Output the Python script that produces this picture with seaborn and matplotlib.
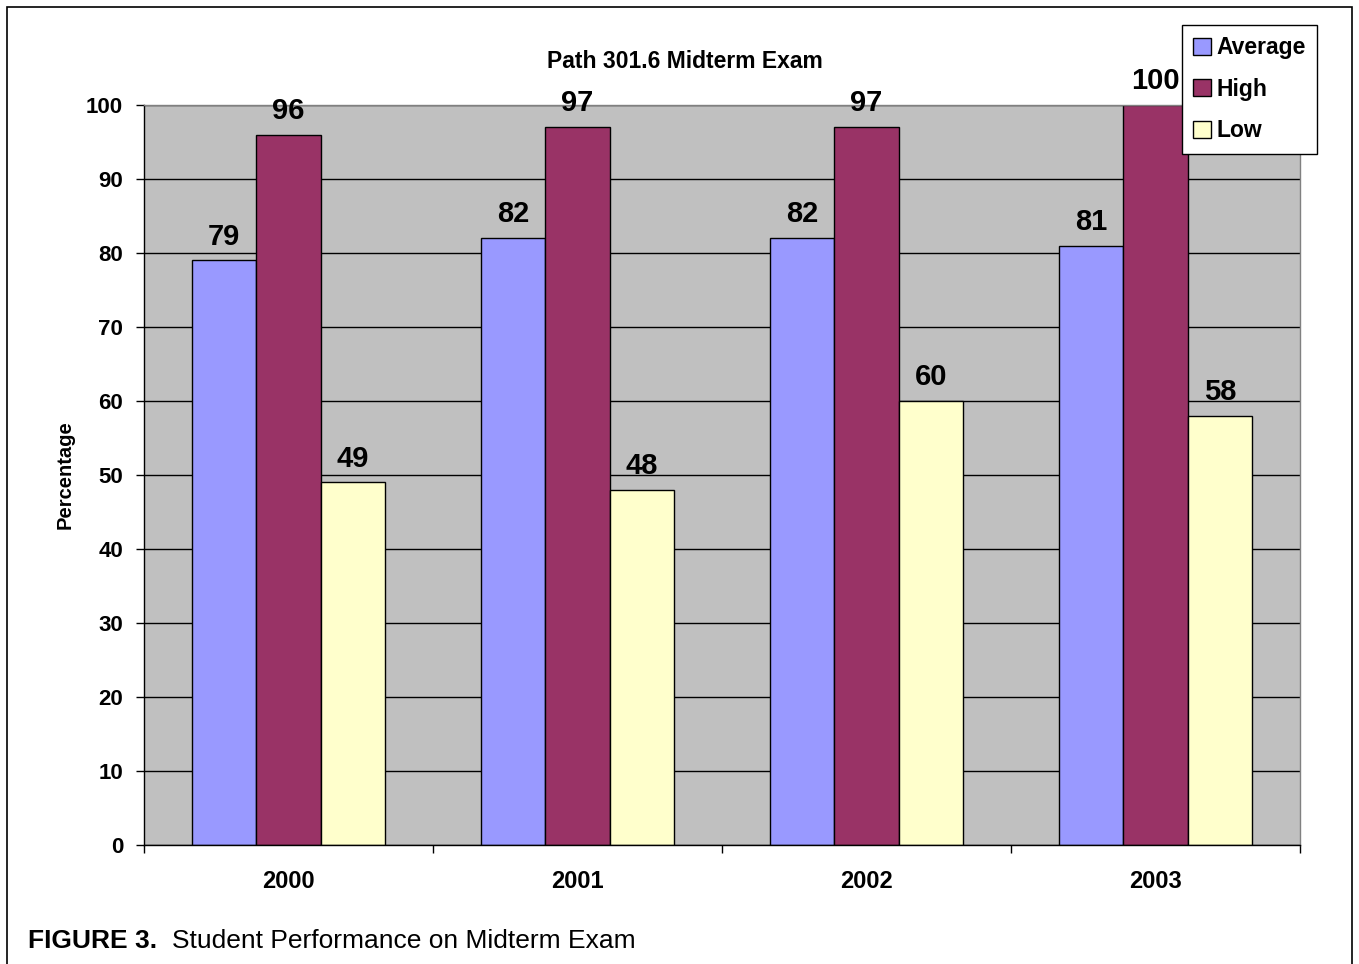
import pandas as pd
import numpy as np
import matplotlib
matplotlib.use("Agg")
import matplotlib.pyplot as plt
import seaborn as sns
from matplotlib.patches import Rectangle

# data
years = ["2000", "2001", "2002", "2003"]
average = [79, 82, 82, 81]
high = [96, 97, 97, 100]
low = [49, 48, 60, 58]
series = ["Average", "High", "Low"]
colors = ["#9999FF", "#993366", "#FFFFCC"]

df = pd.DataFrame({
    "year": years * 3,
    "value": average + high + low,
    "series": [s for s in series for _ in years],
})

sns.set_style("white")
plt.rcParams["font.family"] = ["Liberation Sans", "DejaVu Sans"]
plt.rcParams["text.color"] = "black"
plt.rcParams["xtick.color"] = "black"
plt.rcParams["ytick.color"] = "black"
plt.rcParams["axes.labelcolor"] = "black"

fig = plt.figure(figsize=(13.59, 9.64), dpi=100)
ax = fig.add_axes([144 / 1359, 1 - 845 / 964, 1156 / 1359, 740 / 964])
ax.set_facecolor("#C0C0C0")

sns.barplot(data=df, x="year", y="value", hue="series", palette=colors,
            saturation=1, width=0.67, edgecolor="black", linewidth=1,
            ax=ax, legend=True)

for c in ax.containers:
    ax.bar_label(c, fmt="%d", padding=7, fontsize=21, fontweight="bold")

ax.set_ylim(0, 100)
ax.set_xlim(-0.5, 3.5)
ax.set_yticks(np.arange(0, 101, 10))
ax.yaxis.grid(True, color="black", linewidth=1)
ax.set_axisbelow(True)
ax.xaxis.grid(False)

ax.set_xticks(np.arange(-0.5, 3.6, 1), minor=True)
ax.tick_params(axis="x", which="major", length=0, pad=18, labelsize=17)
ax.tick_params(axis="x", which="minor", length=6, width=1, color="black", direction="out")
ax.tick_params(axis="y", length=6, width=1, color="black", direction="out", labelsize=16, pad=9)
ax.xaxis.set_ticks_position("bottom")
ax.yaxis.set_ticks_position("left")
for lab in ax.get_xticklabels() + ax.get_yticklabels():
    lab.set_fontweight("bold")

for side in ["left", "bottom"]:
    ax.spines[side].set_color("black")
    ax.spines[side].set_linewidth(1)
for side in ["top", "right"]:
    ax.spines[side].set_color("#808080")
    ax.spines[side].set_linewidth(1)

ax.set_xlabel("")
ax.set_ylabel("Percentage", fontsize=14.5, fontweight="bold", labelpad=8)

# legend
handles, labels = ax.get_legend_handles_labels()
ax.get_legend().remove()
leg = fig.legend(handles, labels, loc="upper left",
                 bbox_to_anchor=(1182 / 1359, 1 - 25 / 964),
                 frameon=True, fancybox=False, edgecolor="black",
                 prop={"size": 16.5, "weight": "bold"},
                 handlelength=0.75, handleheight=0.75, handletextpad=0.25,
                 labelspacing=0.8, borderpad=0.5, borderaxespad=0)
leg.get_frame().set_linewidth(1)
leg.get_frame().set_facecolor("white")
leg.get_frame().set_alpha(1)
for h in leg.legend_handles:
    h.set_edgecolor("black")

# title and caption
fig.text(685 / 1359, 1 - 62 / 964, "Path 301.6 Midterm Exam",
         ha="center", va="center", fontsize=16.5, fontweight="bold")
fig.text(28 / 1359, 1 - 941 / 964, "FIGURE 3.", ha="left", va="center",
         fontsize=19, fontweight="bold")
fig.text(172 / 1359, 1 - 941 / 964, "Student Performance on Midterm Exam",
         ha="left", va="center", fontsize=19)

# outer frame
fig.patches.append(Rectangle((7 / 1359, -0.1), 1345 / 1359, 1.1 - 7 / 964,
                             transform=fig.transFigure, fill=False,
                             edgecolor="black", linewidth=1.2))

fig.savefig("out.png", dpi=100)
